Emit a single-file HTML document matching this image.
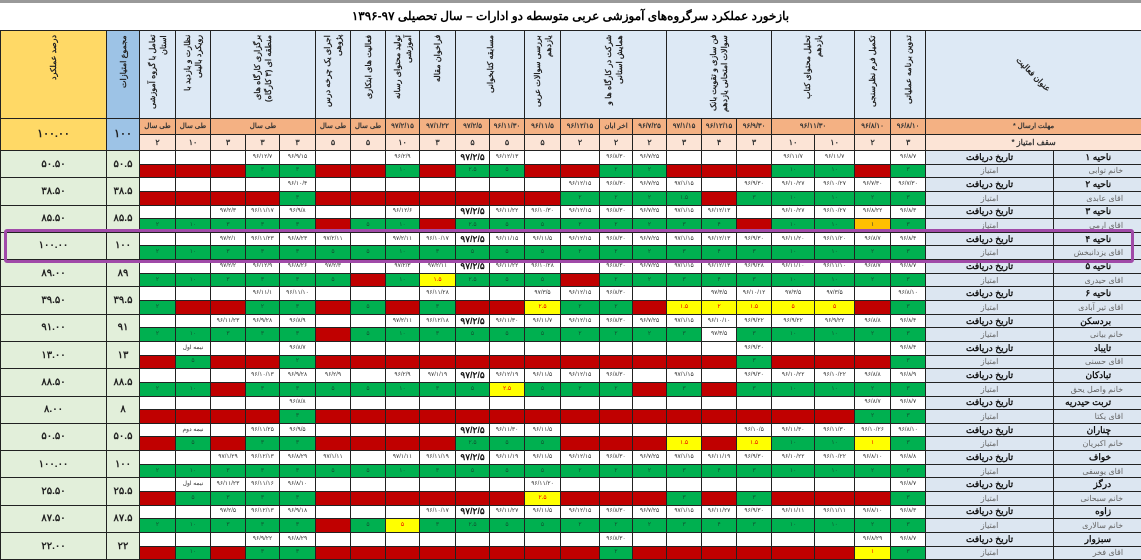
<!DOCTYPE html>
<html><head><meta charset="utf-8">
<style>
body{margin:0;width:1141px;height:556px;overflow:hidden;background:#fff;font-family:"Liberation Sans","Noto Sans CJK SC",sans-serif;position:relative}
.top{position:absolute;left:0;top:0;width:1141px;height:3px;background:#999}
.title{position:absolute;left:0;top:9px;width:1141px;text-align:center;font-size:12px;font-weight:bold;direction:rtl}
table{border-collapse:collapse;table-layout:fixed;position:absolute;left:0;top:30px;width:1141px}
td{border:1px solid #222;padding:0;overflow:hidden;white-space:nowrap;text-align:center;font-size:6px;color:#333;line-height:9px}
.hd td{height:86px;background:#dde9f5;vertical-align:top;font-size:8px;font-weight:bold;color:#222;line-height:11px}
.v{writing-mode:vertical-rl;direction:rtl;transform:rotate(180deg);display:inline-block;white-space:normal;height:80px;line-height:11px;padding-bottom:4px;text-align:start}
.dl td{height:15px;background:#f4b183;font-size:7px;font-weight:bold}
.pt td{height:15px;background:#fce4d6;font-size:8px;font-weight:bold}
.yl{background:#ffd966!important}
.bl{background:#9dc3e6!important}
.pc{background:#e2efda;font-size:10px;font-weight:bold;color:#222}
tr.d td,tr.s td{height:12.65px;max-height:12.65px}
.r{background:#c00000}.g{background:#00b050;color:#153}.y{background:#ffff00;color:#e00}.o{background:#ffc000}
.lb{background:#dce6f1;font-size:9px;font-weight:bold;color:#111;direction:rtl}
.lg{background:#dce6f1;font-size:8px;color:#666;direction:rtl}
.lbn{background:#dce6f1;font-size:9px;font-weight:bold;color:#111;direction:rtl;text-align:right;padding-right:30px}
.lgn{background:#dce6f1;font-size:8px;color:#666;direction:rtl;text-align:right;padding-right:18px}
.big{font-size:9px;font-weight:bold;color:#111}
.hl{position:absolute;left:4px;top:229px;width:1124px;height:28px;border:3px solid #a04aa8;border-radius:3px}
</style></head><body>
<div class="top"></div>
<div class="title">بازخورد عملکرد سرگروه‌های آموزشی عربی متوسطه دو  ادارات – سال تحصیلی ۹۷-۱۳۹۶</div>
<table>
<colgroup><col style="width:106px"><col style="width:33px"><col style="width:36px"><col style="width:35px"><col style="width:35px"><col style="width:34px"><col style="width:36px"><col style="width:35px"><col style="width:35px"><col style="width:34px"><col style="width:36px"><col style="width:34px"><col style="width:35px"><col style="width:36px"><col style="width:39px"><col style="width:33px"><col style="width:34px"><col style="width:35px"><col style="width:35px"><col style="width:35px"><col style="width:43px"><col style="width:40px"><col style="width:36px"><col style="width:35px"><col style="width:128px"><col style="width:88px"></colgroup>
<tr class="hd">
<td class="yl"><span class="v">درصد عملکرد</span></td>
<td class="bl"><span class="v">مجموع امتیازات</span></td>
<td><span class="v">تعامل با گروه آموزشی استان</span></td>
<td><span class="v">نظارت و بازدید با رویکرد بالینی</span></td>
<td colspan="3"><span class="v">برگزاری کارگاه های منطقه ای (۳ کارگاه)</span></td>
<td><span class="v">اجرای یک چرخه درس پژوهی</span></td>
<td><span class="v">فعالیت های ابتکاری</span></td>
<td><span class="v">تولید محتوای رسانه آموزشی</span></td>
<td><span class="v">فراخوان مقاله</span></td>
<td colspan="2"><span class="v">مسابقه کتابخوانی</span></td>
<td><span class="v">بررسی سوالات عربی یازدهم</span></td>
<td colspan="3"><span class="v">شرکت در کارگاه ها و همایش استانی</span></td>
<td colspan="3"><span class="v">فن سازی و تقویت بانک سوالات امتحانی یازدهم</span></td>
<td colspan="2"><span class="v">تحلیل محتوای کتاب یازدهم</span></td>
<td><span class="v">تکمیل فرم نظرسنجی</span></td>
<td><span class="v">تدوین برنامه عملیاتی</span></td>
<td colspan="2" style="vertical-align:middle"><span style="display:inline-block;transform:rotate(45deg);font-size:8px">عنوان فعالیت</span></td>
</tr>
<tr class="dl">
<td class="yl pc" rowspan="2" style="font-size:11px">۱۰۰.۰۰</td><td class="bl pc" rowspan="2" style="font-size:11px">۱۰۰</td>
<td>طی سال</td><td>طی سال</td><td colspan="3">طی سال</td><td>طی سال</td><td>طی سال</td><td>۹۷/۲/۱۵</td><td>۹۷/۱/۲۲</td><td>۹۷/۲/۵</td><td>۹۶/۱۱/۳۰</td><td>۹۶/۱۱/۵</td><td>۹۶/۱۲/۱۵</td><td>اخر ابان</td><td>۹۶/۷/۲۵</td><td>۹۷/۱/۱۵</td><td>۹۶/۱۲/۱۵</td><td>۹۶/۹/۳۰</td><td colspan="2">۹۶/۱۱/۳۰</td><td>۹۶/۸/۱۰</td><td>۹۶/۸/۱۰</td>
<td colspan="2" style="direction:rtl">مهلت ارسال *</td>
</tr>
<tr class="pt">
<td>۲</td><td>۱۰</td><td>۳</td><td>۳</td><td>۳</td><td>۵</td><td>۵</td><td>۱۰</td><td>۳</td><td>۵</td><td>۵</td><td>۵</td><td>۲</td><td>۲</td><td>۲</td><td>۳</td><td>۴</td><td>۳</td><td>۱۰</td><td>۱۰</td><td>۲</td><td>۳</td>
<td colspan="2" style="direction:rtl">سقف امتیاز *</td>
</tr>

<tr class="d"><td class="pc" rowspan="2">۵۰.۵۰</td><td class="pc" rowspan="2">۵۰.۵</td>
<td></td><td></td><td></td><td>۹۶/۱۲/۷</td><td>۹۶/۹/۱۵</td><td></td><td></td><td>۹۶/۲/۹</td><td></td><td class="big">۹۷/۲/۵</td><td>۹۶/۱۲/۱۳</td><td></td><td></td><td>۹۶/۸/۳۰</td><td>۹۶/۷/۲۵</td><td></td><td></td><td></td><td>۹۶/۱۱/۷</td><td>۹۶/۱۱/۷</td><td></td><td>۹۶/۸/۷</td>
<td class="lb">تاریخ دریافت</td><td class="lbn">ناحیه ۱</td></tr>
<tr class="s"><td class="r"></td><td class="r"></td><td class="r"></td><td class="g">۳</td><td class="g">۳</td><td class="r"></td><td class="r"></td><td class="g">۱۰</td><td class="r"></td><td class="g">۲.۵</td><td class="g">۵</td><td class="r"></td><td class="r"></td><td class="g">۲</td><td class="g">۲</td><td class="r"></td><td class="r"></td><td class="r"></td><td class="g">۱۰</td><td class="g">۱۰</td><td class="r"></td><td class="g">۳</td>
<td class="lg">امتیاز</td><td class="lgn">خانم توابی</td></tr>

<tr class="d"><td class="pc" rowspan="2">۳۸.۵۰</td><td class="pc" rowspan="2">۳۸.۵</td>
<td></td><td></td><td></td><td></td><td>۹۶/۱۰/۴</td><td></td><td></td><td></td><td></td><td></td><td></td><td></td><td>۹۶/۱۲/۱۵</td><td>۹۶/۸/۳۰</td><td>۹۶/۷/۲۵</td><td>۹۷/۱/۱۵</td><td></td><td>۹۶/۹/۳۰</td><td>۹۶/۱۰/۲۷</td><td>۹۶/۱۰/۲۷</td><td>۹۶/۷/۳۰</td><td>۹۶/۷/۳۰</td>
<td class="lb">تاریخ دریافت</td><td class="lbn">ناحیه ۲</td></tr>
<tr class="s"><td class="r"></td><td class="r"></td><td class="r"></td><td class="r"></td><td class="g">۳</td><td class="r"></td><td class="r"></td><td class="r"></td><td class="r"></td><td class="r"></td><td class="r"></td><td class="r"></td><td class="g">۲</td><td class="g">۲</td><td class="g">۲</td><td class="g">۱.۵</td><td class="r"></td><td class="g">۳</td><td class="g">۱۰</td><td class="g">۱۰</td><td class="g">۲</td><td class="g">۳</td>
<td class="lg">امتیاز</td><td class="lgn">اقای عابدی</td></tr>

<tr class="d"><td class="pc" rowspan="2">۸۵.۵۰</td><td class="pc" rowspan="2">۸۵.۵</td>
<td></td><td></td><td>۹۷/۲/۳</td><td>۹۶/۱۱/۱۷</td><td>۹۶/۹/۸</td><td></td><td></td><td>۹۶/۱۲/۶</td><td></td><td class="big">۹۷/۲/۵</td><td>۹۶/۱۱/۲۲</td><td>۹۶/۱۰/۳۰</td><td>۹۶/۱۲/۱۵</td><td>۹۶/۸/۳۰</td><td>۹۶/۷/۲۵</td><td>۹۷/۱/۱۵</td><td>۹۶/۱۲/۱۳</td><td></td><td>۹۶/۱۰/۲۷</td><td>۹۶/۱۰/۲۷</td><td>۹۶/۸/۲۲</td><td>۹۶/۸/۳</td>
<td class="lb">تاریخ دریافت</td><td class="lbn">ناحیه ۳</td></tr>
<tr class="s"><td class="g">۲</td><td class="g">۱۰</td><td class="g">۳</td><td class="g">۳</td><td class="g">۳</td><td class="r"></td><td class="g">۵</td><td class="g">۱۰</td><td class="r"></td><td class="g">۲.۵</td><td class="g">۵</td><td class="g">۵</td><td class="g">۲</td><td class="g">۲</td><td class="g">۲</td><td class="g">۳</td><td class="g">۴</td><td class="r"></td><td class="g">۱۰</td><td class="g">۱۰</td><td class="o">۱</td><td class="g">۳</td>
<td class="lg">امتیاز</td><td class="lgn">اقای ارمی</td></tr>

<tr class="d"><td class="pc" rowspan="2">۱۰۰.۰۰</td><td class="pc" rowspan="2">۱۰۰</td>
<td></td><td></td><td>۹۷/۲/۱</td><td>۹۶/۱۱/۲۳</td><td>۹۶/۸/۲۳</td><td>۹۷/۲/۱۱</td><td></td><td>۹۷/۲/۱۱</td><td>۹۶/۱۰/۱۷</td><td class="big">۹۷/۲/۵</td><td>۹۶/۱۱/۱۵</td><td>۹۶/۱۱/۵</td><td>۹۶/۱۲/۱۵</td><td>۹۶/۸/۳۰</td><td>۹۶/۷/۲۵</td><td>۹۷/۱/۱۵</td><td>۹۶/۱۲/۱۳</td><td>۹۶/۹/۳۰</td><td>۹۶/۱۱/۲۰</td><td>۹۶/۱۱/۲۰</td><td>۹۶/۸/۷</td><td>۹۶/۸/۴</td>
<td class="lb">تاریخ دریافت</td><td class="lbn">ناحیه ۴</td></tr>
<tr class="s"><td class="g">۲</td><td class="g">۱۰</td><td class="g">۳</td><td class="g">۳</td><td class="g">۳</td><td class="g">۵</td><td class="g">۵</td><td class="g">۱۰</td><td class="g">۳</td><td class="g">۵</td><td class="g">۵</td><td class="g">۵</td><td class="g">۲</td><td class="g">۲</td><td class="g">۲</td><td class="g">۳</td><td class="g">۴</td><td class="g">۳</td><td class="g">۱۰</td><td class="g">۱۰</td><td class="g">۲</td><td class="g">۳</td>
<td class="lg">امتیاز</td><td class="lgn">اقای یزدانبخش</td></tr>

<tr class="d"><td class="pc" rowspan="2">۸۹.۰۰</td><td class="pc" rowspan="2">۸۹</td>
<td></td><td></td><td>۹۷/۲/۲</td><td>۹۶/۱۲/۹</td><td>۹۶/۸/۲۶</td><td>۹۷/۲/۳</td><td></td><td>۹۷/۲/۳</td><td>۹۷/۲/۱۱</td><td class="big">۹۷/۲/۵</td><td>۹۶/۱۱/۲۲</td><td>۹۶/۱۰/۲۸</td><td></td><td>۹۶/۸/۳۰</td><td>۹۶/۷/۲۵</td><td>۹۷/۱/۱۵</td><td>۹۶/۱۲/۱۳</td><td>۹۶/۹/۲۸</td><td>۹۶/۱۱/۱۰</td><td>۹۶/۱۱/۱۰</td><td>۹۶/۸/۷</td><td>۹۶/۸/۷</td>
<td class="lb">تاریخ دریافت</td><td class="lbn">ناحیه ۵</td></tr>
<tr class="s"><td class="g">۲</td><td class="g">۱۰</td><td class="g">۳</td><td class="g">۳</td><td class="g">۳</td><td class="g">۵</td><td class="r"></td><td class="g">۱۰</td><td class="y">۱.۵</td><td class="g">۲.۵</td><td class="g">۵</td><td class="g">۵</td><td class="r"></td><td class="g">۲</td><td class="g">۲</td><td class="g">۳</td><td class="g">۴</td><td class="g">۳</td><td class="g">۱۰</td><td class="g">۱۰</td><td class="g">۲</td><td class="g">۳</td>
<td class="lg">امتیاز</td><td class="lgn">اقای حیدری</td></tr>

<tr class="d"><td class="pc" rowspan="2">۳۹.۵۰</td><td class="pc" rowspan="2">۳۹.۵</td>
<td></td><td></td><td></td><td>۹۶/۱۱/۱</td><td>۹۶/۱۱/۱۰</td><td></td><td></td><td></td><td>۹۶/۱۱/۲۸</td><td></td><td></td><td>۹۷/۳/۵</td><td>۹۶/۱۲/۱۵</td><td>۹۶/۸/۳۰</td><td></td><td></td><td>۹۷/۳/۵</td><td>۹۶/۱۰/۱۲</td><td>۹۷/۳/۵</td><td>۹۷/۳/۵</td><td></td><td>۹۶/۸/۱۰</td>
<td class="lb">تاریخ دریافت</td><td class="lbn">ناحیه ۶</td></tr>
<tr class="s"><td class="g">۲</td><td class="r"></td><td class="r"></td><td class="g">۲</td><td class="g">۳</td><td class="r"></td><td class="g">۵</td><td class="r"></td><td class="g">۳</td><td class="r"></td><td class="r"></td><td class="y">۲.۵</td><td class="g">۲</td><td class="g">۲</td><td class="r"></td><td class="y">۱.۵</td><td class="y">۲</td><td class="y">۱.۵</td><td class="y">۵</td><td class="y">۵</td><td class="r"></td><td class="g">۳</td>
<td class="lg">امتیاز</td><td class="lgn">اقای تیر آبادی</td></tr>

<tr class="d"><td class="pc" rowspan="2">۹۱.۰۰</td><td class="pc" rowspan="2">۹۱</td>
<td></td><td></td><td>۹۶/۱۱/۲۳</td><td>۹۶/۹/۲۸</td><td>۹۶/۸/۹</td><td></td><td></td><td>۹۷/۲/۱۱</td><td>۹۶/۱۲/۱۸</td><td class="big">۹۷/۲/۵</td><td>۹۶/۱۱/۳۰</td><td>۹۶/۱۱/۷</td><td>۹۶/۱۲/۱۵</td><td>۹۶/۸/۳۰</td><td>۹۶/۷/۲۵</td><td>۹۷/۱/۱۵</td><td>۹۶/۱۰/۱۰</td><td>۹۶/۹/۲۲</td><td>۹۶/۹/۲۲</td><td>۹۶/۹/۲۲</td><td>۹۶/۸/۸</td><td>۹۶/۸/۴</td>
<td class="lb">تاریخ دریافت</td><td class="lbn">بردسکن</td></tr>
<tr class="s"><td class="g">۲</td><td class="g">۱۰</td><td class="g">۳</td><td class="g">۳</td><td class="g">۳</td><td class="r"></td><td class="g">۵</td><td class="g">۱۰</td><td class="g">۳</td><td class="g">۵</td><td class="g">۵</td><td class="g">۵</td><td class="g">۲</td><td class="g">۲</td><td class="g">۲</td><td class="g">۳</td><td>۹۷/۳/۵</td><td class="g">۳</td><td class="g">۱۰</td><td class="g">۱۰</td><td class="g">۲</td><td class="g">۳</td>
<td class="lg">امتیاز</td><td class="lgn">خانم بیانی</td></tr>

<tr class="d"><td class="pc" rowspan="2">۱۳.۰۰</td><td class="pc" rowspan="2">۱۳</td>
<td></td><td>نیمه اول</td><td></td><td></td><td>۹۶/۸/۷</td><td></td><td></td><td></td><td></td><td></td><td></td><td></td><td></td><td></td><td></td><td></td><td></td><td>۹۶/۹/۳۰</td><td></td><td></td><td></td><td>۹۶/۸/۴</td>
<td class="lb">تاریخ دریافت</td><td class="lbn">تایباد</td></tr>
<tr class="s"><td class="r"></td><td class="g">۵</td><td class="r"></td><td class="r"></td><td class="g">۲</td><td class="r"></td><td class="r"></td><td class="r"></td><td class="r"></td><td class="r"></td><td class="r"></td><td class="r"></td><td class="r"></td><td class="r"></td><td class="r"></td><td class="r"></td><td class="r"></td><td class="g">۳</td><td class="r"></td><td class="r"></td><td class="r"></td><td class="g">۳</td>
<td class="lg">امتیاز</td><td class="lgn">اقای حسنی</td></tr>

<tr class="d"><td class="pc" rowspan="2">۸۸.۵۰</td><td class="pc" rowspan="2">۸۸.۵</td>
<td></td><td></td><td></td><td>۹۶/۱۰/۱۳</td><td>۹۶/۹/۲۸</td><td>۹۶/۲/۹</td><td></td><td>۹۶/۲/۹</td><td>۹۷/۱/۱۹</td><td class="big">۹۷/۲/۵</td><td>۹۶/۱۲/۱۹</td><td>۹۶/۱۱/۵</td><td>۹۶/۱۲/۱۵</td><td>۹۶/۸/۳۰</td><td></td><td>۹۷/۱/۱۵</td><td></td><td>۹۶/۹/۳۰</td><td>۹۶/۱۰/۲۲</td><td>۹۶/۱۰/۲۲</td><td>۹۶/۸/۸</td><td>۹۶/۸/۹</td>
<td class="lb">تاریخ دریافت</td><td class="lbn">تبادکان</td></tr>
<tr class="s"><td class="g">۲</td><td class="g">۱۰</td><td class="r"></td><td class="g">۳</td><td class="g">۳</td><td class="g">۵</td><td class="g">۵</td><td class="g">۱۰</td><td class="g">۳</td><td class="g">۵</td><td class="y">۲.۵</td><td class="g">۵</td><td class="g">۲</td><td class="g">۲</td><td class="r"></td><td class="g">۳</td><td class="r"></td><td class="g">۳</td><td class="g">۱۰</td><td class="g">۱۰</td><td class="g">۲</td><td class="g">۳</td>
<td class="lg">امتیاز</td><td class="lgn">خانم واصل یحق</td></tr>

<tr class="d"><td class="pc" rowspan="2">۸.۰۰</td><td class="pc" rowspan="2">۸</td>
<td></td><td></td><td></td><td></td><td>۹۶/۸/۸</td><td></td><td></td><td></td><td></td><td></td><td></td><td></td><td></td><td></td><td></td><td></td><td></td><td></td><td></td><td></td><td>۹۶/۸/۷</td><td>۹۶/۸/۷</td>
<td class="lb">تاریخ دریافت</td><td class="lbn">تربت حیدریه</td></tr>
<tr class="s"><td class="r"></td><td class="r"></td><td class="r"></td><td class="r"></td><td class="g">۳</td><td class="r"></td><td class="r"></td><td class="r"></td><td class="r"></td><td class="r"></td><td class="r"></td><td class="r"></td><td class="r"></td><td class="r"></td><td class="r"></td><td class="r"></td><td class="r"></td><td class="r"></td><td class="r"></td><td class="r"></td><td class="g">۲</td><td class="g">۳</td>
<td class="lg">امتیاز</td><td class="lgn">اقای یکتا</td></tr>

<tr class="d"><td class="pc" rowspan="2">۵۰.۵۰</td><td class="pc" rowspan="2">۵۰.۵</td>
<td></td><td>نیمه دوم</td><td></td><td>۹۶/۱۱/۲۵</td><td>۹۶/۹/۵</td><td></td><td></td><td></td><td></td><td class="big">۹۷/۲/۵</td><td>۹۶/۱۱/۳۰</td><td>۹۶/۱۱/۵</td><td></td><td></td><td></td><td></td><td></td><td>۹۶/۱۰/۵</td><td>۹۶/۱۱/۳۰</td><td>۹۶/۱۱/۳۰</td><td>۹۶/۱۰/۲۶</td><td>۹۶/۸/۱۰</td>
<td class="lb">تاریخ دریافت</td><td class="lbn">چناران</td></tr>
<tr class="s"><td class="r"></td><td class="g">۵</td><td class="r"></td><td class="g">۳</td><td class="g">۳</td><td class="r"></td><td class="r"></td><td class="r"></td><td class="r"></td><td class="g">۲.۵</td><td class="g">۵</td><td class="g">۵</td><td class="r"></td><td class="r"></td><td class="r"></td><td class="y">۱.۵</td><td class="r"></td><td class="y">۱.۵</td><td class="g">۱۰</td><td class="g">۱۰</td><td class="y">۱</td><td class="g">۳</td>
<td class="lg">امتیاز</td><td class="lgn">خانم اکبریان</td></tr>

<tr class="d"><td class="pc" rowspan="2">۱۰۰.۰۰</td><td class="pc" rowspan="2">۱۰۰</td>
<td></td><td></td><td>۹۷/۱/۲۹</td><td>۹۶/۱۲/۱۳</td><td>۹۶/۸/۲۹</td><td>۹۷/۱/۱۱</td><td></td><td>۹۷/۱/۱۱</td><td>۹۶/۱۱/۱۹</td><td class="big">۹۷/۲/۵</td><td>۹۶/۱۱/۱۹</td><td>۹۶/۱۱/۵</td><td>۹۶/۱۲/۱۵</td><td>۹۶/۸/۳۰</td><td>۹۶/۷/۲۵</td><td>۹۷/۱/۱۵</td><td>۹۶/۱۱/۱۹</td><td>۹۶/۹/۳۰</td><td>۹۶/۱۰/۲۲</td><td>۹۶/۱۰/۲۲</td><td>۹۶/۸/۱۰</td><td>۹۶/۸/۸</td>
<td class="lb">تاریخ دریافت</td><td class="lbn">خواف</td></tr>
<tr class="s"><td class="g">۲</td><td class="g">۱۰</td><td class="g">۳</td><td class="g">۳</td><td class="g">۳</td><td class="g">۵</td><td class="g">۵</td><td class="g">۱۰</td><td class="g">۳</td><td class="g">۵</td><td class="g">۵</td><td class="g">۵</td><td class="g">۲</td><td class="g">۲</td><td class="g">۲</td><td class="g">۳</td><td class="g">۴</td><td class="g">۳</td><td class="g">۱۰</td><td class="g">۱۰</td><td class="g">۲</td><td class="g">۳</td>
<td class="lg">امتیاز</td><td class="lgn">اقای یوسفی</td></tr>

<tr class="d"><td class="pc" rowspan="2">۲۵.۵۰</td><td class="pc" rowspan="2">۲۵.۵</td>
<td></td><td>نیمه اول</td><td>۹۶/۱۱/۲۳</td><td>۹۶/۱۱/۱۶</td><td>۹۶/۸/۱۰</td><td></td><td></td><td></td><td></td><td></td><td></td><td>۹۶/۱۱/۲۰</td><td></td><td></td><td></td><td></td><td></td><td></td><td></td><td></td><td></td><td>۹۶/۸/۷</td>
<td class="lb">تاریخ دریافت</td><td class="lbn">درگز</td></tr>
<tr class="s"><td class="r"></td><td class="g">۵</td><td class="g">۳</td><td class="g">۳</td><td class="g">۳</td><td class="r"></td><td class="r"></td><td class="r"></td><td class="r"></td><td class="r"></td><td class="r"></td><td class="y">۲.۵</td><td class="r"></td><td class="r"></td><td class="r"></td><td class="g">۳</td><td class="r"></td><td class="g">۳</td><td class="r"></td><td class="r"></td><td class="r"></td><td class="g">۳</td>
<td class="lg">امتیاز</td><td class="lgn">خانم سبحانی</td></tr>

<tr class="d"><td class="pc" rowspan="2">۸۷.۵۰</td><td class="pc" rowspan="2">۸۷.۵</td>
<td></td><td></td><td>۹۷/۲/۵</td><td>۹۶/۱۲/۱۳</td><td>۹۶/۹/۱۸</td><td></td><td></td><td></td><td>۹۶/۱۰/۱۷</td><td class="big">۹۷/۲/۵</td><td>۹۶/۱۱/۲۷</td><td>۹۶/۱۱/۵</td><td>۹۶/۱۲/۱۵</td><td>۹۶/۸/۳۰</td><td>۹۶/۷/۲۵</td><td>۹۷/۱/۱۵</td><td>۹۶/۱۱/۲۷</td><td>۹۶/۹/۳۰</td><td>۹۶/۱۱/۱۱</td><td>۹۶/۱۱/۱۱</td><td>۹۶/۸/۱۰</td><td>۹۶/۸/۳</td>
<td class="lb">تاریخ دریافت</td><td class="lbn">زاوه</td></tr>
<tr class="s"><td class="g">۲</td><td class="g">۱۰</td><td class="g">۳</td><td class="g">۳</td><td class="g">۳</td><td class="r"></td><td class="g">۵</td><td class="y">۵</td><td class="g">۳</td><td class="g">۲.۵</td><td class="g">۵</td><td class="g">۵</td><td class="g">۲</td><td class="g">۲</td><td class="g">۲</td><td class="g">۳</td><td class="g">۴</td><td class="g">۳</td><td class="g">۱۰</td><td class="g">۱۰</td><td class="g">۲</td><td class="g">۳</td>
<td class="lg">امتیاز</td><td class="lgn">خانم سالاری</td></tr>

<tr class="d"><td class="pc" rowspan="2">۲۲.۰۰</td><td class="pc" rowspan="2">۲۲</td>
<td></td><td></td><td></td><td>۹۶/۹/۲۲</td><td>۹۶/۸/۲۹</td><td></td><td></td><td></td><td></td><td></td><td></td><td></td><td></td><td>۹۶/۸/۳۰</td><td></td><td></td><td></td><td></td><td></td><td></td><td>۹۶/۸/۲۹</td><td>۹۶/۸/۷</td>
<td class="lb">تاریخ دریافت</td><td class="lbn">سبزوار</td></tr>
<tr class="s"><td class="r"></td><td class="g">۱۰</td><td class="r"></td><td class="g">۳</td><td class="g">۳</td><td class="r"></td><td class="r"></td><td class="r"></td><td class="r"></td><td class="r"></td><td class="r"></td><td class="r"></td><td class="r"></td><td class="g">۲</td><td class="r"></td><td class="r"></td><td class="r"></td><td class="r"></td><td class="r"></td><td class="r"></td><td class="y">۱</td><td class="g">۳</td>
<td class="lg">امتیاز</td><td class="lgn">اقای فخر</td></tr>
</table>
<div class="hl"></div>
</body></html>
